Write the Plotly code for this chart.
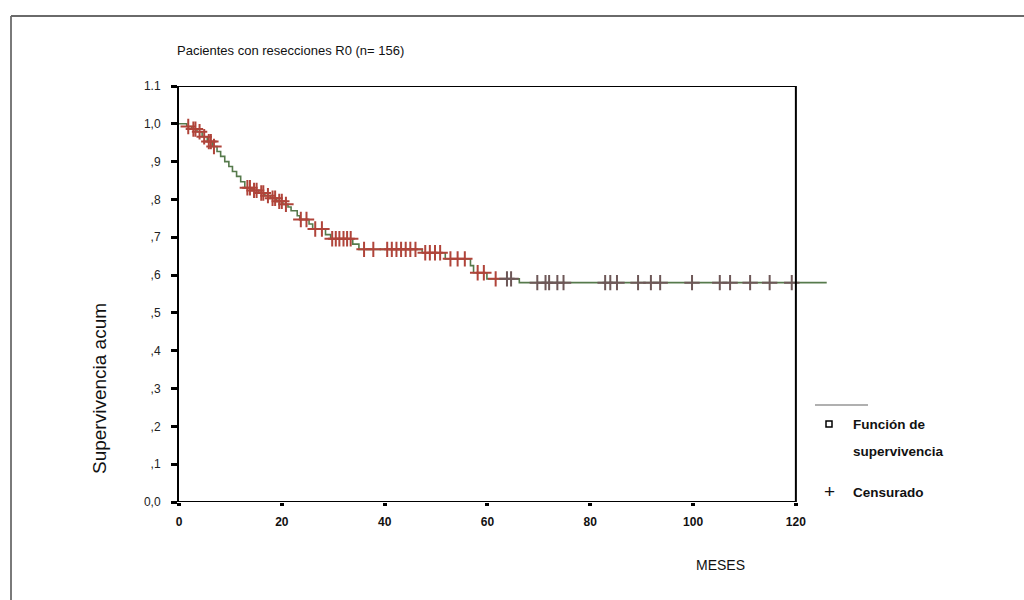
import numpy as np
import plotly.graph_objects as go

# Kaplan-Meier estimate: event times (months) and survival after each event
event_times = [1.5, 2.5, 3.5, 4.5, 5.5, 6.5, 7.4, 8.1, 8.9, 9.7, 10.4, 11.2, 12.0, 12.8,
               14.2, 15.5, 16.7, 17.8, 19.0, 20.2, 21.2, 21.8, 23.0, 23.5, 25.3, 26.0,
               28.5, 29.5, 33.8, 35.0, 47.3, 51.8, 56.7, 57.3, 59.9, 66.2]
surv_after = [0.993, 0.986, 0.979, 0.966, 0.953, 0.940, 0.927, 0.914, 0.900, 0.887, 0.874,
              0.861, 0.847, 0.831, 0.824, 0.817, 0.810, 0.803, 0.795, 0.787, 0.780, 0.770,
              0.757, 0.747, 0.735, 0.722, 0.707, 0.696, 0.682, 0.668, 0.659, 0.643, 0.625,
              0.606, 0.590, 0.580]
last_followup = 126.0

# Censored observations (months)
censored_times = [1.8, 2.8, 3.2, 4.0, 4.9, 5.8, 6.2, 6.8,
                  13.3, 13.8, 14.6, 15.1, 16.0, 16.4, 17.3, 18.2, 18.7, 19.5, 20.0, 20.8,
                  23.7, 24.8, 26.5, 27.8, 29.8, 30.5, 31.2, 32.0, 32.7, 33.4,
                  36.0, 37.8, 40.5, 41.4, 42.3, 43.2, 44.1, 45.0, 46.0,
                  47.9, 48.8, 49.8, 50.8, 52.8, 54.2, 55.6, 58.1, 59.3, 61.6, 63.8, 64.6,
                  69.7, 71.3, 72.0, 73.6, 74.8, 82.9, 83.9, 85.2, 89.3, 91.8, 93.6,
                  99.8, 105.2, 107.2, 111.1, 114.9, 119.2]

x_ticks = [0, 20, 40, 60, 80, 100, 120]
x_tick_labels = ["0", "20", "40", "60", "80", "100", "120"]
y_ticks = [0.0, 0.1, 0.2, 0.3, 0.4, 0.5, 0.6, 0.7, 0.8, 0.9, 1.0, 1.1]
y_tick_labels = ["0,0", ",1", ",2", ",3", ",4", ",5", ",6", ",7", ",8", ",9", "1,0", "1.1"]

title_text = "Pacientes con resecciones R0 (n= 156)"
x_title = "MESES"
y_title = "Supervivencia acum"
legend_curve = ["Función de", "supervivencia"]
legend_censor = "Censurado"

# step curve
step_x = [0.0] + event_times + [last_followup]
step_y = [1.0] + surv_after + [surv_after[-1]]

# survival level at each censored time
et = np.array(event_times)
sa = np.array([1.0] + surv_after)
cens_y = [float(sa[np.searchsorted(et, t, side="right")]) for t in censored_times]
cens_colors = ["#b0443a" if t < 62 else "#6e5858" for t in censored_times]

W, H = 1024, 600
ML, MR, MT, MB = 179, 187, 86, 98
PW, PH = W - ML - MR, H - MT - MB
FONT = "Liberation Sans, Arial, sans-serif"


def px(x):
    return (x - ML) / PW


def py(y):
    return 1 - (y - MT) / PH


fig = go.Figure()
fig.add_trace(go.Scatter(x=step_x, y=step_y, mode="lines", line_shape="hv",
                         line=dict(color="#567a4c", width=1.6),
                         hoverinfo="skip", showlegend=False))
fig.add_trace(go.Scatter(x=censored_times, y=cens_y, mode="markers",
                         marker=dict(symbol="cross-thin-open", size=11, color=cens_colors,
                                     line=dict(width=2)),
                         showlegend=False))

shapes = [
    # plot frame
    dict(type="line", xref="x", yref="y", x0=0, x1=120, y0=0, y1=0,
         line=dict(color="black", width=2)),
    dict(type="line", xref="x", yref="y", x0=0, x1=120, y0=1.1, y1=1.1,
         line=dict(color="black", width=2)),
    dict(type="line", xref="x", yref="y", x0=120, x1=120, y0=-0.01, y1=1.1,
         line=dict(color="black", width=2)),
    # outer page border
    dict(type="line", xref="paper", yref="paper", x0=px(11), x1=px(11), y0=py(16), y1=py(600),
         line=dict(color="#7a7a7a", width=2)),
    dict(type="line", xref="paper", yref="paper", x0=px(11), x1=px(1024), y0=py(16), y1=py(16),
         line=dict(color="#6a6a6a", width=2)),
    # legend: line sample and square marker
    dict(type="line", xref="paper", yref="paper", x0=px(815), x1=px(868), y0=py(405), y1=py(405),
         line=dict(color="#b0b0b0", width=2)),
    dict(type="rect", xref="paper", yref="paper", x0=px(826), x1=px(832), y0=py(421), y1=py(427),
         line=dict(color="black", width=1.5)),
]

LEG_FONT = dict(family=FONT, size=13.5, color="#111", weight="bold")
annotations = [
    dict(text=title_text, xref="paper", yref="paper", x=px(175), y=py(51),
         xanchor="left", yanchor="middle", showarrow=False,
         font=dict(family=FONT, size=13, color="#111")),
    dict(text=x_title, xref="paper", yref="paper", x=px(720), y=py(565),
         xanchor="center", yanchor="middle", showarrow=False,
         font=dict(family=FONT, size=14, color="#111")),
    dict(text=y_title, xref="paper", yref="paper", x=px(99), y=py(389),
         xanchor="center", yanchor="middle", textangle=-90, showarrow=False,
         font=dict(family=FONT, size=19, color="#111")),
    dict(text=legend_curve[0], xref="paper", yref="paper", x=px(851), y=py(424),
         xanchor="left", yanchor="middle", showarrow=False, font=LEG_FONT),
    dict(text=legend_curve[1], xref="paper", yref="paper", x=px(851), y=py(451),
         xanchor="left", yanchor="middle", showarrow=False, font=LEG_FONT),
    dict(text="+", xref="paper", yref="paper", x=px(829), y=py(491),
         xanchor="center", yanchor="middle", showarrow=False,
         font=dict(family=FONT, size=19, color="#111")),
    dict(text=legend_censor, xref="paper", yref="paper", x=px(851), y=py(492),
         xanchor="left", yanchor="middle", showarrow=False, font=LEG_FONT),
]

fig.update_layout(
    width=W, height=H, autosize=False,
    margin=dict(l=ML, r=MR, t=MT, b=MB),
    paper_bgcolor="white", plot_bgcolor="white",
    shapes=shapes, annotations=annotations,
    xaxis=dict(range=[0, 128], showgrid=False, zeroline=False, showline=False,
               tickmode="array", tickvals=x_ticks, ticktext=x_tick_labels,
               ticks="outside", ticklen=3, tickwidth=4, tickcolor="black",
               ticklabelstandoff=6,
               tickfont=dict(family=FONT, size=12, color="#111", weight="bold")),
    yaxis=dict(range=[0, 1.1], showgrid=False, zeroline=False,
               showline=True, linecolor="black", linewidth=2,
               tickmode="array", tickvals=y_ticks, ticktext=y_tick_labels,
               ticks="outside", ticklen=6, tickwidth=3, tickcolor="black",
               ticklabelstandoff=8,
               tickfont=dict(family=FONT, size=12, color="#222")),
)

fig.write_html("out.html")
